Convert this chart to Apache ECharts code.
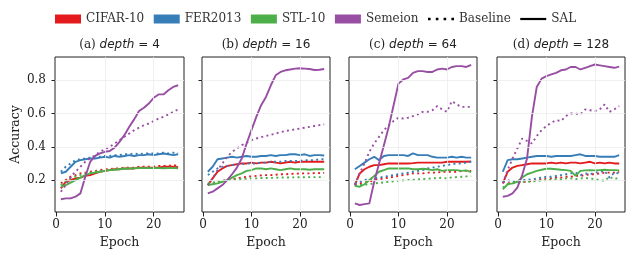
<!DOCTYPE html>
<html>
<head>
<meta charset="utf-8">
<script src="https://cdn.jsdelivr.net/npm/echarts@6/dist/echarts.min.js"></script>
<style>html,body{margin:0;padding:0;background:#fff}#c{width:634px;height:260px}</style>
</head>
<body>
<div id="c"></div>
<script>
const epochs = [1,2,3,4,5,6,7,8,9,10,11,12,13,14,15,16,17,18,19,20,21,22,23,24,25];
const datasets = ['CIFAR-10','FER2013','STL-10','Semeion'];
const panelTitles = ['(a) ','(b) ','(c) ','(d) '];
const depths = ['4','16','64','128'];
const xTicks = [0,10,20];
const yTicks = [0.2,0.4,0.6,0.8];

// panel (a) depth = 4
const a_cifar_base = [0.18,0.20,0.22,0.23,0.24,0.245,0.25,0.255,0.26,0.265,0.265,0.27,0.27,0.275,0.275,0.275,0.28,0.28,0.28,0.28,0.285,0.285,0.285,0.29,0.285];
const a_cifar_sal  = [0.15,0.19,0.20,0.21,0.215,0.225,0.23,0.24,0.25,0.255,0.26,0.265,0.265,0.27,0.27,0.27,0.275,0.275,0.275,0.275,0.275,0.28,0.28,0.28,0.278];
const a_fer_base   = [0.25,0.28,0.30,0.32,0.325,0.33,0.335,0.34,0.34,0.345,0.345,0.35,0.35,0.355,0.355,0.36,0.355,0.36,0.36,0.36,0.36,0.365,0.36,0.365,0.36];
const a_fer_sal    = [0.24,0.25,0.28,0.31,0.32,0.325,0.33,0.33,0.335,0.34,0.335,0.345,0.34,0.345,0.35,0.345,0.35,0.35,0.355,0.35,0.355,0.36,0.355,0.35,0.355];
const a_stl_base   = [0.17,0.195,0.21,0.22,0.23,0.24,0.245,0.25,0.255,0.26,0.262,0.265,0.268,0.27,0.27,0.272,0.275,0.275,0.275,0.275,0.275,0.275,0.275,0.275,0.275];
const a_stl_sal    = [0.16,0.17,0.185,0.20,0.215,0.23,0.24,0.245,0.25,0.255,0.26,0.262,0.265,0.268,0.27,0.27,0.272,0.272,0.272,0.272,0.272,0.27,0.272,0.272,0.27];
const a_sem_base   = [0.13,0.17,0.22,0.25,0.28,0.31,0.33,0.35,0.37,0.385,0.40,0.42,0.44,0.46,0.48,0.50,0.515,0.53,0.54,0.555,0.57,0.58,0.595,0.61,0.625];
const a_sem_sal    = [0.085,0.09,0.09,0.10,0.12,0.22,0.31,0.345,0.36,0.37,0.375,0.395,0.43,0.47,0.52,0.565,0.615,0.635,0.66,0.695,0.715,0.715,0.74,0.76,0.77];

// panel (b) depth = 16
const b_cifar_base = [0.17,0.18,0.19,0.195,0.20,0.205,0.21,0.215,0.22,0.222,0.225,0.228,0.23,0.23,0.232,0.235,0.235,0.237,0.238,0.24,0.24,0.24,0.242,0.242,0.243];
const b_cifar_sal  = [0.17,0.21,0.25,0.27,0.285,0.29,0.295,0.30,0.30,0.305,0.30,0.305,0.305,0.31,0.305,0.30,0.305,0.31,0.305,0.31,0.31,0.31,0.31,0.31,0.31];
const b_fer_base   = [0.23,0.25,0.27,0.28,0.285,0.29,0.295,0.295,0.30,0.30,0.30,0.305,0.305,0.31,0.31,0.31,0.315,0.315,0.315,0.315,0.32,0.32,0.32,0.325,0.325];
const b_fer_sal    = [0.25,0.28,0.325,0.33,0.335,0.34,0.335,0.34,0.345,0.34,0.34,0.345,0.345,0.35,0.345,0.35,0.35,0.355,0.355,0.35,0.355,0.345,0.35,0.35,0.348];
const b_stl_base   = [0.18,0.185,0.19,0.195,0.20,0.202,0.205,0.207,0.208,0.21,0.21,0.212,0.212,0.213,0.214,0.215,0.215,0.216,0.216,0.217,0.217,0.218,0.218,0.218,0.218];
const b_stl_sal    = [0.17,0.175,0.18,0.19,0.20,0.215,0.23,0.24,0.255,0.26,0.27,0.27,0.265,0.27,0.265,0.26,0.265,0.27,0.265,0.265,0.265,0.262,0.265,0.265,0.265];
const b_sem_base   = [0.17,0.21,0.26,0.30,0.34,0.37,0.39,0.41,0.425,0.44,0.45,0.458,0.465,0.472,0.48,0.488,0.495,0.50,0.505,0.51,0.515,0.52,0.525,0.53,0.535];
const b_sem_sal    = [0.12,0.13,0.15,0.17,0.20,0.235,0.275,0.33,0.42,0.50,0.58,0.65,0.70,0.77,0.83,0.85,0.86,0.865,0.87,0.872,0.87,0.868,0.862,0.863,0.868];

// panel (c) depth = 64
const c_cifar_base = [0.17,0.18,0.185,0.19,0.20,0.205,0.21,0.215,0.22,0.225,0.23,0.235,0.24,0.24,0.24,0.245,0.245,0.245,0.25,0.25,0.25,0.25,0.255,0.255,0.255];
const c_cifar_sal  = [0.17,0.24,0.265,0.28,0.29,0.29,0.295,0.30,0.30,0.30,0.30,0.30,0.302,0.305,0.305,0.305,0.305,0.305,0.305,0.31,0.31,0.31,0.31,0.31,0.312];
const c_fer_base   = [0.18,0.19,0.20,0.205,0.21,0.215,0.22,0.225,0.23,0.235,0.24,0.245,0.25,0.255,0.26,0.27,0.275,0.28,0.285,0.29,0.295,0.30,0.30,0.305,0.31];
const c_fer_sal    = [0.265,0.285,0.305,0.325,0.34,0.32,0.345,0.35,0.35,0.35,0.35,0.345,0.36,0.35,0.35,0.35,0.34,0.335,0.335,0.335,0.34,0.335,0.34,0.335,0.335];
const c_stl_base   = [0.165,0.17,0.172,0.175,0.18,0.183,0.186,0.19,0.193,0.196,0.198,0.20,0.202,0.204,0.206,0.208,0.21,0.212,0.214,0.21,0.216,0.218,0.22,0.222,0.222];
const c_stl_sal    = [0.165,0.16,0.175,0.20,0.225,0.25,0.26,0.27,0.27,0.27,0.27,0.27,0.265,0.265,0.268,0.265,0.26,0.265,0.255,0.26,0.26,0.26,0.255,0.258,0.248];
const c_sem_base   = [0.17,0.24,0.30,0.37,0.42,0.46,0.50,0.53,0.555,0.575,0.57,0.575,0.585,0.595,0.61,0.61,0.62,0.645,0.625,0.61,0.675,0.655,0.64,0.64,0.64];
const c_sem_sal    = [0.06,0.05,0.055,0.06,0.19,0.30,0.41,0.52,0.65,0.78,0.805,0.815,0.845,0.855,0.855,0.85,0.85,0.865,0.87,0.865,0.88,0.885,0.885,0.88,0.892];

// panel (d) depth = 128
const d_cifar_base = [0.19,0.18,0.185,0.185,0.19,0.19,0.195,0.20,0.205,0.21,0.21,0.215,0.215,0.22,0.22,0.225,0.225,0.23,0.235,0.235,0.24,0.245,0.245,0.245,0.25];
const d_cifar_sal  = [0.18,0.25,0.275,0.285,0.29,0.295,0.30,0.30,0.30,0.30,0.305,0.30,0.305,0.30,0.305,0.305,0.30,0.305,0.31,0.30,0.305,0.30,0.305,0.30,0.30];
const d_fer_base   = [0.19,0.20,0.19,0.195,0.20,0.20,0.205,0.21,0.215,0.22,0.22,0.225,0.23,0.235,0.24,0.245,0.23,0.24,0.235,0.245,0.25,0.255,0.215,0.245,0.24];
const d_fer_sal    = [0.25,0.32,0.325,0.325,0.33,0.335,0.34,0.345,0.345,0.345,0.34,0.345,0.345,0.345,0.345,0.35,0.355,0.345,0.345,0.345,0.34,0.34,0.34,0.34,0.35];
const d_stl_base   = [0.155,0.175,0.18,0.185,0.19,0.19,0.192,0.195,0.198,0.20,0.202,0.205,0.205,0.21,0.21,0.205,0.21,0.212,0.21,0.205,0.20,0.195,0.22,0.205,0.215];
const d_stl_sal    = [0.145,0.175,0.18,0.19,0.215,0.235,0.245,0.255,0.262,0.268,0.268,0.265,0.262,0.26,0.255,0.225,0.255,0.258,0.26,0.258,0.26,0.262,0.26,0.26,0.258];
const d_sem_base   = [0.18,0.26,0.33,0.39,0.45,0.435,0.42,0.465,0.50,0.525,0.545,0.56,0.555,0.585,0.60,0.60,0.595,0.625,0.62,0.615,0.625,0.655,0.61,0.625,0.645];
const d_sem_sal    = [0.10,0.105,0.12,0.155,0.23,0.33,0.58,0.76,0.81,0.825,0.835,0.845,0.86,0.865,0.88,0.88,0.865,0.875,0.885,0.895,0.89,0.885,0.88,0.875,0.882];

const panels = [
  [a_cifar_base,a_cifar_sal,a_fer_base,a_fer_sal,a_stl_base,a_stl_sal,a_sem_base,a_sem_sal],
  [b_cifar_base,b_cifar_sal,b_fer_base,b_fer_sal,b_stl_base,b_stl_sal,b_sem_base,b_sem_sal],
  [c_cifar_base,c_cifar_sal,c_fer_base,c_fer_sal,c_stl_base,c_stl_sal,c_sem_base,c_sem_sal],
  [d_cifar_base,d_cifar_sal,d_fer_base,d_fer_sal,d_stl_base,d_stl_sal,d_sem_base,d_sem_sal]
];

const colors = ['#e41a1c','#377eb8','#4daf4a','#984ea3'];
const DOT = [2, 3.3];
const LW = 1.9;
const SERIF = 'DejaVu Serif';
const gridLefts = [55, 202, 349, 497];
const gridWidths = [129, 128, 128, 128];
const GTOP = 57, GH = 155;

const grids = [], xAxes = [], yAxes = [], series = [], titles = [];

gridLefts.forEach((left, p) => {
  grids.push({left: left, top: GTOP, width: gridWidths[p], height: GH, show: true,
    borderColor: '#222', borderWidth: 1, backgroundColor: 'transparent'});
  xAxes.push({
    type: 'value', gridIndex: p, min: -0.2, max: 26.2,
    axisLine: {show: false},
    axisTick: {show: true, customValues: xTicks, length: 4.5, lineStyle: {color: '#222', width: 1}},
    axisLabel: {show: true, customValues: xTicks, fontFamily: SERIF, fontSize: 12, color: '#222', margin: 7},
    splitLine: {show: false},
    name: 'Epoch', nameLocation: 'middle', nameGap: 24,
    nameTextStyle: {fontFamily: SERIF, fontSize: 12.5, color: '#222', fontWeight: 'normal'}
  });
  yAxes.push({
    type: 'value', gridIndex: p, min: 0.008, max: 0.94,
    axisLine: {show: false},
    axisTick: {show: true, customValues: yTicks, length: 4.5, lineStyle: {color: '#222', width: 1}},
    axisLabel: {show: p === 0, customValues: yTicks, fontFamily: SERIF, fontSize: 12, color: '#222', margin: 9,
      formatter: v => v.toFixed(1)},
    splitLine: {show: false},
    name: p === 0 ? 'Accuracy' : '', nameLocation: 'middle', nameGap: 33,
    nameTextStyle: {fontFamily: SERIF, fontSize: 12.5, color: '#222', fontWeight: 'normal'}
  });
  // faint grid lines through the axes' own scales
  series.push({
    type: 'line', name: 'grid' + p, xAxisIndex: p, yAxisIndex: p, data: [], z: 1, silent: true,
    markLine: {silent: true, symbol: ['none','none'], label: {show: false}, animation: false,
      lineStyle: {color: '#ececec', width: 0.8, type: 'solid'},
      emphasis: {disabled: true},
      data: xTicks.filter(v => v > 0).map(v => ({xAxis: v})).concat(yTicks.map(v => ({yAxis: v})))}
  });
  panels[p].forEach((arr, k) => {
    const ds = Math.floor(k / 2);
    const isSal = k % 2 === 1;
    series.push({
      type: 'line', name: datasets[ds] + (isSal ? ' SAL ' : ' Baseline ') + p,
      xAxisIndex: p, yAxisIndex: p, z: 3,
      data: epochs.map((e, i) => [e, arr[i]]),
      showSymbol: false, symbol: 'none', smooth: false,
      lineStyle: {color: colors[ds], width: LW, type: isSal ? 'solid' : DOT},
      itemStyle: {color: colors[ds]},
      emphasis: {disabled: true}
    });
  });
  titles.push({
    text: '{n|' + panelTitles[p] + '}{i|depth}{m| = ' + depths[p] + '}',
    left: left + gridWidths[p] / 2, top: 39, textAlign: 'center', padding: 0,
    textStyle: {
      fontWeight: 'normal',
      rich: {
        n: {fontFamily: SERIF, fontSize: 12, color: '#222', fontWeight: 'normal'},
        i: {fontFamily: 'DejaVu Sans', fontStyle: 'italic', fontSize: 12, color: '#222', fontWeight: 'normal'},
        m: {fontFamily: 'DejaVu Sans', fontSize: 12, color: '#222', fontWeight: 'normal'}
      }
    }
  });
});

// legend-only series
datasets.forEach((d, i) => {
  series.push({type: 'line', name: d, data: [], xAxisIndex: 0, yAxisIndex: 0, symbol: 'none',
    itemStyle: {color: colors[i]}, lineStyle: {color: colors[i]}});
});
series.push({type: 'line', name: 'Baseline', data: [], xAxisIndex: 0, yAxisIndex: 0, symbol: 'none',
  itemStyle: {color: '#000'}, lineStyle: {color: '#000', width: 2, type: DOT}});
series.push({type: 'line', name: 'SAL', data: [], xAxisIndex: 0, yAxisIndex: 0, symbol: 'none',
  itemStyle: {color: '#000'}, lineStyle: {color: '#000', width: 2, type: 'solid'}});

const dotIcon = 'path://M1,0h2.5v2.2h-2.5z M8.5,0h2.5v2.2h-2.5z M16,0h2.5v2.2h-2.5z M23.5,0h2.5v2.2h-2.5z';
const lineIcon = 'path://M0,0h26v2.2h-26z';

const chart = echarts.init(document.getElementById('c'), null, {renderer: 'canvas'});
chart.setOption({
  animation: false,
  backgroundColor: '#fff',
  title: titles,
  legend: {
    left: 55, top: 13, padding: 0, itemGap: 9.5, itemWidth: 26, itemHeight: 9,
    selectedMode: false, symbolKeepAspect: true,
    textStyle: {fontFamily: SERIF, fontSize: 12, color: '#333'},
    data: datasets.map(d => ({name: d, icon: 'rect'})).concat([
      {name: 'Baseline', icon: dotIcon}, {name: 'SAL', icon: lineIcon}])
  },
  grid: grids,
  xAxis: xAxes,
  yAxis: yAxes,
  series: series
});
</script>
</body>
</html>
